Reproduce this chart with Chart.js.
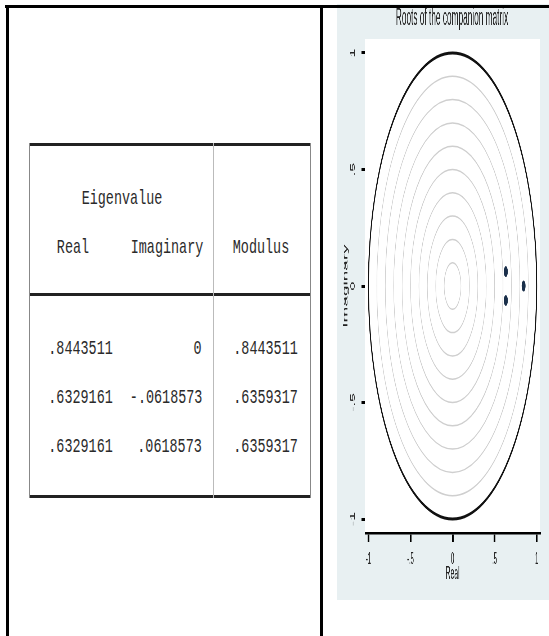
<!DOCTYPE html>
<html>
<head>
<meta charset="utf-8">
<title>Roots of the companion matrix</title>
<script src="https://cdn.jsdelivr.net/npm/chart.js@4.4.1/dist/chart.umd.min.js"></script>
<style>
  html, body { margin: 0; padding: 0; background: #fff; }
  body { width: 549px; height: 636px; position: relative; overflow: hidden; }
  .rule { position: absolute; background: #000; }
  .tline { position: absolute; }
  .txt {
    position: absolute;
    font-family: "Liberation Mono", "DejaVu Sans Mono", monospace;
    font-size: 21px;
    line-height: 21px;
    color: #2a2a2a;
    white-space: pre;
  }
  .c { transform: translate(-50%, -50%) scaleX(.64); }
  .r { transform-origin: right center; transform: translateY(-50%) scaleX(.64); }
  #panel {
    position: absolute;
    left: 337px;
    top: 4px;
    width: 639px;
    height: 596px;
    transform-origin: 0 0;
    transform: scaleX(.36);
  }
</style>
</head>
<body>

<div id="table"></div>
<div id="panel"><canvas id="roots" width="639" height="596"></canvas></div>

<!-- outer frame -->
<div class="rule" style="left:5px;top:5px;width:544px;height:3px"></div>
<div class="rule" style="left:6px;top:5px;width:3px;height:631px"></div>
<div class="rule" style="left:320px;top:5px;width:3px;height:631px"></div>

<script>
// eigenvalues of the companion matrix
const realParts = [0.8443511, 0.6329161, 0.6329161];
const imagParts = [0, -0.0618573, 0.0618573];
const moduli = [0.8443511, 0.6359317, 0.6359317];

const headers = ['Real', 'Imaginary', 'Modulus'];
const axisTicks = [-1, -0.5, 0, 0.5, 1];
const axisTickLabels = ['-1', '-.5', '0', '.5', '1'];
const gridRadii = [0.1, 0.2, 0.3, 0.4, 0.5, 0.6, 0.7, 0.8, 0.9];
const unitRadius = 1;

const sans = "'Liberation Sans', Arial, sans-serif";
const panelColor = '#e8f0f2';

// formato tipo Stata: sin cero inicial
function fmt(v){
    if(v === 0) return '0';
    return v.toFixed(7).replace(/^(-?)0\./, '$1.');
}

function addLine(left, top, w, h, color){
    let d = document.createElement('div');
    d.className = 'tline';
    d.style.cssText = `left:${left}px;top:${top}px;width:${w}px;height:${h}px;background:${color}`;
    document.getElementById('table').appendChild(d);
}

function addText(text, x, y, align){
    let d = document.createElement('div');
    d.className = 'txt ' + (align === 'right' ? 'r' : 'c');
    d.textContent = text;
    if(align === 'right'){
        d.style.right = (549 - x) + 'px';
    }else{
        d.style.left = x + 'px';
    }
    d.style.top = y + 'px';
    document.getElementById('table').appendChild(d);
}

// tabla de la izquierda
addLine(29, 143, 282, 3, '#222');
addLine(29, 293, 282, 3, '#222');
addLine(29, 495, 282, 3, '#222');
addLine(29, 143, 1, 355, '#888');
addLine(310, 143, 1, 355, '#888');
addLine(213, 143, 1, 355, '#bbb');

addText('Eigenvalue', 122, 198);
const headerX = [73, 167, 261];
headers.forEach((h, i) => addText(h, headerX[i], 247));

const colRight = [113, 202, 298];
realParts.forEach((re, i) => {
    let y = 348 + i * 49;
    addText(fmt(re), colRight[0], y, 'right');
    addText(fmt(imagParts[i]), colRight[1], y, 'right');
    addText(fmt(moduli[i]), colRight[2], y, 'right');
});

// fondo del grafico y region blanca
const stataBackground = {
    id: 'stataBackground',
    beforeDraw(chart){
        const {ctx, chartArea: a, width, height} = chart;
        ctx.save();
        ctx.fillStyle = panelColor;
        ctx.fillRect(0, 0, width, height);
        ctx.fillStyle = '#fff';
        ctx.fillRect(a.left, a.top, a.right - a.left, a.bottom - a.top);
        ctx.restore();
    }
};

// circulos de referencia con las escalas del grafico
const circles = {
    id: 'circles',
    beforeDatasetsDraw(chart){
        const {ctx, scales: {x, y}} = chart;
        const cx = x.getPixelForValue(0);
        const cy = y.getPixelForValue(0);
        const ring = (r, color, w) => {
            ctx.beginPath();
            ctx.ellipse(cx, cy, x.getPixelForValue(r) - cx, cy - y.getPixelForValue(r), 0, 0, Math.PI * 2);
            ctx.strokeStyle = color;
            ctx.lineWidth = w;
            ctx.stroke();
        };
        ctx.save();
        gridRadii.forEach(r => ring(r, '#cfcfcf', 1.5));
        ring(unitRadius, '#111', 3);
        ctx.restore();
    }
};

new Chart(document.getElementById('roots'), {
    type: 'scatter',
    data: {
        datasets: [{
            data: realParts.map((re, i) => ({x: re, y: imagParts[i]})),
            pointRadius: 5.5,
            pointStyle: 'circle',
            backgroundColor: '#1a2f4a',
            borderWidth: 0
        }]
    },
    options: {
        responsive: false,
        animation: false,
        layout: {padding: 0},
        plugins: {
            legend: {display: false},
            tooltip: {enabled: false},
            title: {
                display: true,
                text: 'Roots of the companion matrix',
                color: '#222',
                font: {family: sans, size: 23, weight: 'normal', lineHeight: 1},
                padding: {top: 3, bottom: 9}
            }
        },
        scales: {
            x: {
                type: 'linear',
                min: -1.04,
                max: 1.04,
                afterBuildTicks: s => { s.ticks = axisTicks.map(v => ({value: v})); },
                afterFit: s => { s.height = 67; },
                grid: {drawOnChartArea: false, drawTicks: true, tickLength: 9, color: '#000', lineWidth: 5},
                border: {display: true, color: '#000', width: 2.5},
                ticks: {
                    autoSkip: false,
                    maxRotation: 0,
                    padding: 8,
                    color: '#222',
                    font: {family: sans, size: 16},
                    callback: (v, i) => axisTickLabels[i]
                },
                title: {
                    display: true,
                    text: 'Real',
                    color: '#222',
                    font: {family: sans, size: 19},
                    padding: {top: 0, bottom: 15}
                }
            },
            y: {
                type: 'linear',
                position: 'left',
                min: -1.06,
                max: 1.06,
                afterBuildTicks: s => { s.ticks = axisTicks.map(v => ({value: v})); },
                afterFit: s => { s.width = 78; },
                grid: {drawOnChartArea: false, drawTicks: true, tickLength: 10, color: '#000', lineWidth: 3},
                border: {display: false},
                ticks: {
                    autoSkip: false,
                    minRotation: 90,
                    maxRotation: 90,
                    crossAlign: 'center',
                    padding: 14,
                    color: '#222',
                    font: {family: sans, size: 16},
                    callback: (v, i) => axisTickLabels[i]
                },
                title: {
                    display: true,
                    text: 'Imaginary',
                    color: '#222',
                    font: {family: sans, size: 19},
                    padding: {top: 12, bottom: 0}
                }
            },
            // eje vacio a la derecha: solo reserva el margen del grafico
            yRight: {
                type: 'linear',
                position: 'right',
                min: -1.06,
                max: 1.06,
                afterFit: s => { s.width = 75; },
                grid: {display: false},
                border: {display: false},
                ticks: {display: false}
            }
        }
    },
    plugins: [stataBackground, circles]
});
</script>
</body>
</html>
